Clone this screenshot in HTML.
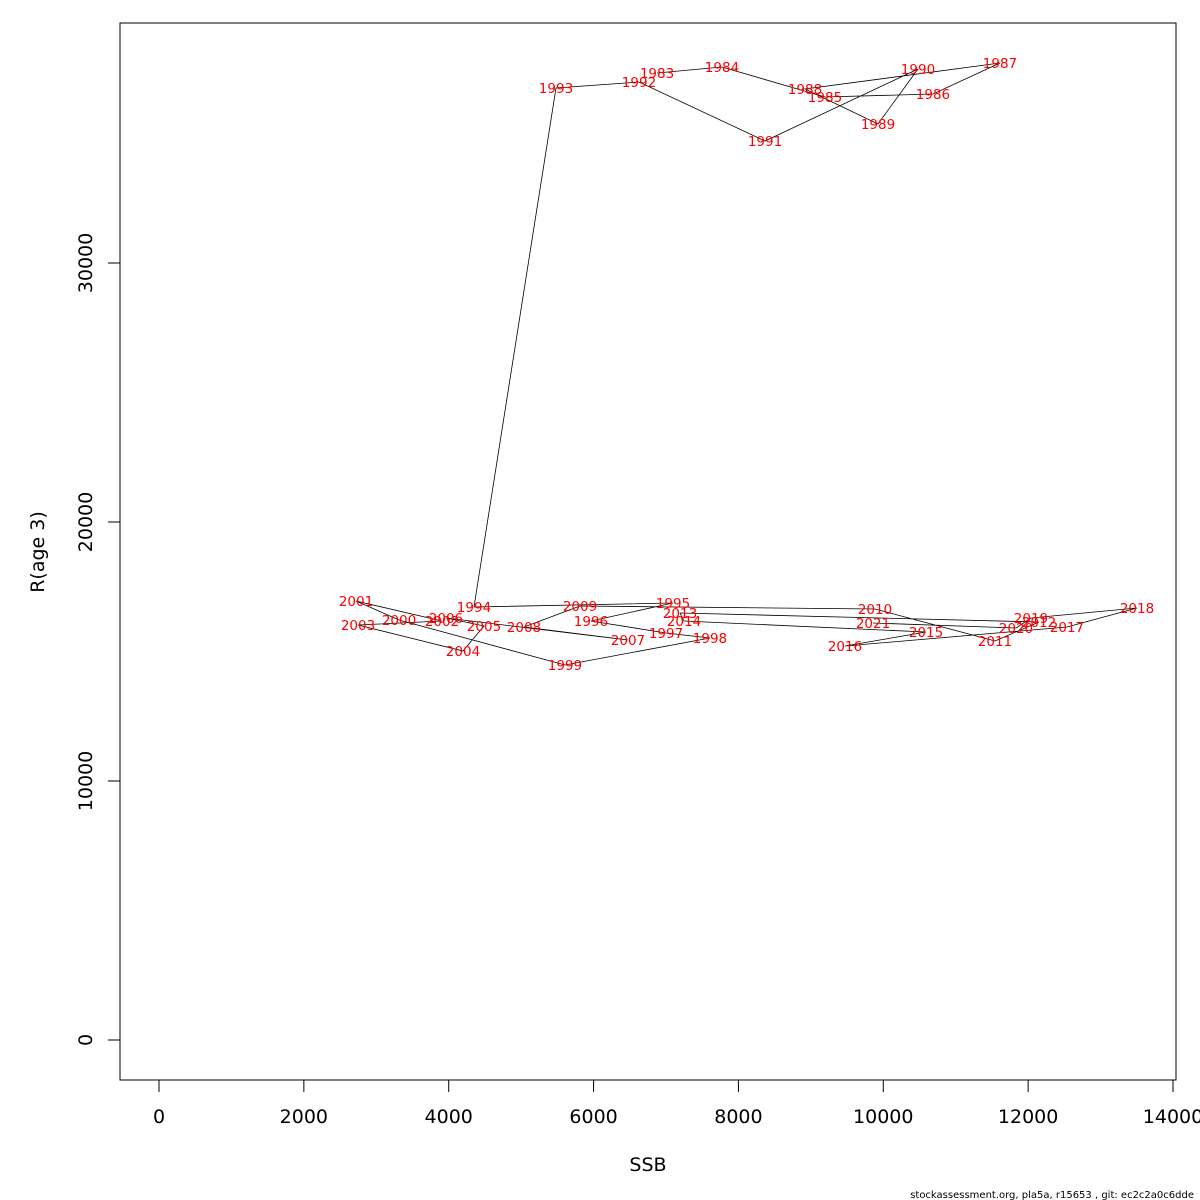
<!DOCTYPE html>
<html><head><meta charset="utf-8"><style>body{margin:0;background:#fff}svg{display:block}</style></head>
<body>
<svg id="chart" width="1200" height="1200" xmlns="http://www.w3.org/2000/svg" font-family="DejaVu Sans, Liberation Sans, sans-serif">
<rect x="120" y="23" width="1056" height="1057" fill="none" stroke="#000" stroke-width="1"/>
<g id="axes"></g><g id="lines"></g><g id="labels"></g>
<text x="648" y="1171" font-size="19" text-anchor="middle">SSB</text>
<text transform="translate(44,552) rotate(-90)" font-size="19" text-anchor="middle">R(age 3)</text>
<text x="1194" y="1198" font-size="10" text-anchor="end">stockassessment.org, pla5a, r15653 , git: ec2c2a0c6dde</text>
</svg>
<script>
const years=[1983,1984,1985,1986,1987,1988,1989,1990,1991,1992,1993,1994,1995,1996,1997,1998,1999,2000,2001,2002,2003,2004,2005,2006,2007,2008,2009,2010,2011,2012,2013,2014,2015,2016,2017,2018,2019,2020,2021];
const ssb=[6876,7773,9195,10686,11611,8919,9927,10479,8367,6627,5481,4349,7097,5964,7000,7607,5605,3314,2720,3907,2748,4197,4487,3962,6475,5039,5813,9885,11542,12150,7193,7248,10590,9471,12536,13503,12039,11832,9858];
const rec=[37336,37568,36409,36525,37722,36718,35367,37490,34710,36988,36757,16718,16873,16178,15714,15521,14479,16216,16950,16178,16023,15019,15985,16293,15444,15946,16757,16641,15405,16139,16486,16178,15753,15212,15946,16680,16293,15907,16100];
const xTicks=[0,2000,4000,6000,8000,10000,12000,14000];
const yTicks=[0,10000,20000,30000];
const NS='http://www.w3.org/2000/svg';
const X=v=>159+v*(1173-159)/14000;
const Y=v=>1040-v*(1040-263)/30000;
function mk(tag,parent,attrs){const e=document.createElementNS(NS,tag);for(const k in attrs)e.setAttribute(k,attrs[k]);document.getElementById(parent).appendChild(e);return e;}
const ax=mk('line','axes',{x1:X(0),x2:X(14000),y1:1080,y2:1080,stroke:'#000'});


const ay=mk('line','axes',{x1:120,x2:120,y1:Y(0),y2:Y(30000),stroke:'#000'});


xTicks.forEach(t=>{
 const l=mk('line','axes',{x1:X(t),x2:X(t),y1:1080,y2:1092,stroke:'#000'});
 
 
 const tx=mk('text','axes',{x:X(t),y:1123,'font-size':19,'text-anchor':'middle'});
 
 
 tx.textContent=t;
});
yTicks.forEach(t=>{
 const l=mk('line','axes',{x1:108,x2:120,y1:Y(t),y2:Y(t),stroke:'#000'});
 
 
 const tx=mk('text','axes',{transform:`translate(92,${Y(t)}) rotate(-90)`,'font-size':19,'text-anchor':'middle'});
 
 
 tx.textContent=t;
});
const pts=ssb.map((s,i)=>X(s).toFixed(1)+','+Y(rec[i]).toFixed(1)).join(' ');
const pl=mk('polyline','lines',{points:pts,fill:'none',stroke:'#000','stroke-width':0.8});


years.forEach((yr,i)=>{
 const t=mk('text','labels',{x:X(ssb[i]),y:Y(rec[i])+5,'font-size':13.5,fill:'#f00','text-anchor':'middle'});
 
 
 t.textContent=yr;
});
</script>
</body></html>
